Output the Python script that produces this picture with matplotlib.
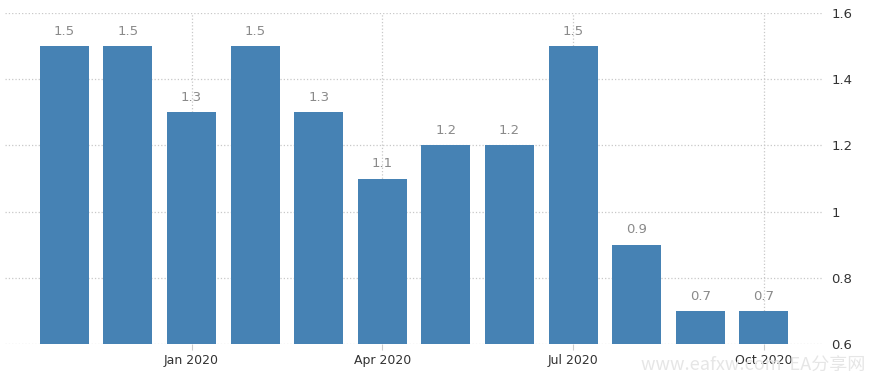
import matplotlib.pyplot as plt

plt.rcParams['font.family'] = ['DejaVu Sans']

months = ['Nov 2019', 'Dec 2019', 'Jan 2020', 'Feb 2020', 'Mar 2020', 'Apr 2020',
          'May 2020', 'Jun 2020', 'Jul 2020', 'Aug 2020', 'Sep 2020', 'Oct 2020']
values = [1.5, 1.5, 1.3, 1.5, 1.3, 1.1, 1.2, 1.2, 1.5, 0.9, 0.7, 0.7]
shown_labels = ['Jan 2020', 'Apr 2020', 'Jul 2020', 'Oct 2020']
y_ticks = [0.6, 0.8, 1.0, 1.2, 1.4, 1.6]
y_tick_labels = ['0.6', '0.8', '1', '1.2', '1.4', '1.6']

fig = plt.figure(figsize=(8.7, 3.79), dpi=100)
ax = fig.add_axes([0.006, 0.092, 0.94, 0.874])

x = list(range(len(months)))
bars = ax.bar(x, values, width=0.77, color='#4682b4', zorder=3)

for b, v in zip(bars, values):
    ax.text(b.get_x() + b.get_width() / 2, v + 0.025, f'{v:g}',
            ha='center', va='bottom', fontsize=9.5, color='#8a8a8a')

ax.set_xlim(-0.93, 11.93)
ax.set_ylim(0.6, 1.6)

# only quarterly ticks on x
tick_pos = [months.index(m) for m in shown_labels]
ax.set_xticks(tick_pos)
ax.set_xticklabels(shown_labels, fontsize=9, color='#333333')
ax.tick_params(axis='x', length=4, color='#cccccc', pad=3)

ax.yaxis.tick_right()
ax.set_yticks(y_ticks)
ax.set_yticklabels(y_tick_labels, fontsize=9.5, color='#333333')
ax.tick_params(axis='y', length=0, pad=6)

ax.grid(True, linestyle=':', color='#c8c8c8', linewidth=0.9, zorder=0)
for s in ax.spines.values():
    s.set_visible(False)

# faint watermark in the corner
fig.text(0.995, 0.01, 'www.eafxw.com  EA分享网', ha='right', va='bottom',
         fontsize=13, color='#e6e6e6', family=['Noto Sans CJK SC', 'DejaVu Sans'])

fig.savefig('out.png', dpi=100)
